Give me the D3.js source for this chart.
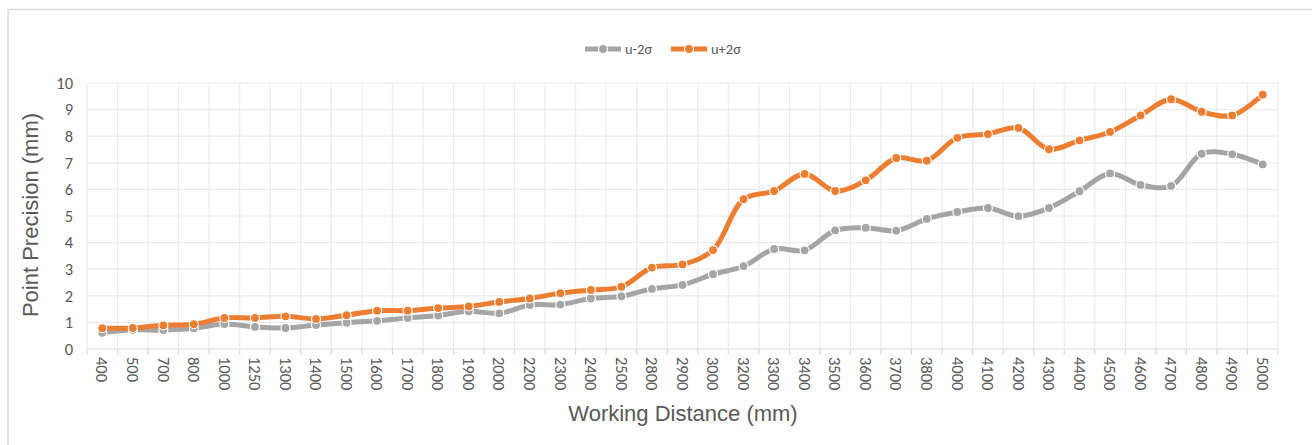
<!DOCTYPE html>
<html>
<head>
<meta charset="utf-8">
<script src="https://cdn.jsdelivr.net/npm/d3@7/dist/d3.min.js"></script>
<style>
  body { margin: 0; background: #fff; }
  text { font-family: Calibri, Carlito, Lato, "Open Sans", sans-serif; }
  .axis-title { font-family: Arial, "Liberation Sans", sans-serif; }
</style>
</head>
<body>
<svg id="chart" width="1312" height="445"></svg>
<script>
// categories (working distance, mm)
var distances = ["400","500","700","800","1000","1250","1300","1400","1500","1600","1700","1800","1900",
  "2000","2200","2300","2400","2500","2800","2900","3000","3200","3300","3400","3500","3600","3700",
  "3800","4000","4100","4200","4300","4400","4500","4600","4700","4800","4900","5000"];

// u-2sigma series
var lowerVals = [0.61,0.72,0.71,0.78,0.94,0.83,0.79,0.90,0.99,1.06,1.17,1.26,1.42,
  1.34,1.65,1.67,1.90,1.98,2.26,2.41,2.81,3.11,3.76,3.71,4.46,4.56,4.45,
  4.89,5.15,5.30,4.99,5.30,5.93,6.60,6.17,6.13,7.34,7.32,6.94];

// u+2sigma series
var upperVals = [0.78,0.79,0.89,0.93,1.17,1.17,1.23,1.13,1.27,1.44,1.44,1.54,1.60,
  1.77,1.90,2.10,2.22,2.34,3.06,3.18,3.72,5.63,5.94,6.58,5.94,6.34,7.18,
  7.08,7.94,8.08,8.31,7.51,7.84,8.16,8.78,9.39,8.92,8.78,9.56];

var yTicks = [0,1,2,3,4,5,6,7,8,9,10];

var seriesNames = ["u-2\u03c3", "u+2\u03c3"];
var seriesColors = ["#a5a5a5", "#ed7d31"];

var svg = d3.select("#chart");

// outer chart frame
svg.append("rect")
   .attr("x", 8).attr("y", 9.5)
   .attr("width", 1320).attr("height", 450)
   .style("fill", "none")
   .style("stroke", "#d9d9d9")
   .style("stroke-width", 1.5);

var plotLeft = 87, plotRight = 1278, plotTop = 83, plotBottom = 349;

var xScale = d3.scaleBand().domain(distances).range([plotLeft, plotRight]);
var yScale = d3.scaleLinear().domain([0, 10]).range([plotBottom, plotTop]);

// horizontal gridlines
svg.append("g")
   .selectAll("line")
   .data(yTicks)
   .enter()
   .append("line")
   .attr("x1", plotLeft).attr("x2", plotRight)
   .attr("y1", function(d) { return yScale(d); })
   .attr("y2", function(d) { return yScale(d); })
   .style("stroke", function(d) { return d == 0 ? "#d9d9d9" : "#ebebeb"; })
   .style("stroke-width", 1.2);

// vertical gridlines + tick marks at band boundaries
var bounds = distances.map(function(d) { return xScale(d); }).concat([plotRight]);
svg.append("g")
   .selectAll("line")
   .data(bounds)
   .enter()
   .append("line")
   .attr("x1", function(d) { return d; })
   .attr("x2", function(d) { return d; })
   .attr("y1", plotTop)
   .attr("y2", plotBottom)
   .style("stroke", "#ebebeb")
   .style("stroke-width", 1.2);

svg.append("g")
   .selectAll("line")
   .data(bounds)
   .enter()
   .append("line")
   .attr("x1", function(d) { return d; })
   .attr("x2", function(d) { return d; })
   .attr("y1", plotBottom)
   .attr("y2", plotBottom + 6)
   .style("stroke", "#d9d9d9")
   .style("stroke-width", 1.2);

// y tick labels
svg.append("g")
   .selectAll("text")
   .data(yTicks)
   .enter()
   .append("text")
   .attr("x", 73)
   .attr("y", function(d) { return yScale(d); })
   .attr("dy", "0.35em")
   .attr("text-anchor", "end")
   .style("font-size", "16.5px")
   .style("fill", "#595959")
   .text(function(d) { return d; });

// x tick labels (rotated, read top to bottom)
svg.append("g")
   .selectAll("text")
   .data(distances)
   .enter()
   .append("text")
   .attr("transform", function(d) {
     var cx = xScale(d) + xScale.bandwidth() / 2;
     return "translate(" + cx + "," + (plotBottom + 8) + ") rotate(90)";
   })
   .attr("dy", "0.35em")
   .attr("text-anchor", "start")
   .style("font-size", "16.5px")
   .style("fill", "#595959")
   .text(function(d) { return d; });

// axis titles
svg.append("text")
   .attr("class", "axis-title")
   .attr("transform", "translate(38,215) rotate(-90)")
   .attr("text-anchor", "middle")
   .style("font-size", "22px")
   .style("fill", "#595959")
   .text("Point Precision (mm)");

svg.append("text")
   .attr("class", "axis-title")
   .attr("x", 683)
   .attr("y", 421)
   .attr("text-anchor", "middle")
   .style("font-size", "22px")
   .style("fill", "#595959")
   .text("Working Distance (mm)");

// lines
var line = d3.line()
             .x(function(d, i) { return xScale(distances[i]) + xScale.bandwidth() / 2; })
             .y(function(d) { return yScale(d); })
             .curve(d3.curveCatmullRom.alpha(0.5));

[lowerVals, upperVals].forEach(function(vals, k) {
  svg.append("path")
     .datum(vals)
     .attr("d", line)
     .style("fill", "none")
     .style("stroke", seriesColors[k])
     .style("stroke-width", 5)
     .style("stroke-linecap", "round");

  svg.append("g")
     .selectAll("circle")
     .data(vals)
     .enter()
     .append("circle")
     .attr("cx", function(d, i) { return xScale(distances[i]) + xScale.bandwidth() / 2; })
     .attr("cy", function(d) { return yScale(d); })
     .attr("r", 4.5)
     .style("fill", seriesColors[k])
     .style("stroke", "#fff")
     .style("stroke-width", 1.2);
});

// legend
var legendX = [585, 671];
seriesNames.forEach(function(name, k) {
  var g = svg.append("g").attr("transform", "translate(" + legendX[k] + ",49)");
  g.append("line")
   .attr("x1", 0).attr("x2", 36)
   .attr("y1", 0).attr("y2", 0)
   .style("stroke", seriesColors[k])
   .style("stroke-width", 5);
  g.append("circle")
   .attr("cx", 18).attr("cy", 0).attr("r", 4.5)
   .style("fill", seriesColors[k])
   .style("stroke", "#fff")
   .style("stroke-width", 1.2);
  g.append("text")
   .attr("x", 40).attr("y", 0)
   .attr("dy", "0.35em")
   .style("font-size", "14.5px")
   .style("fill", "#595959")
   .text(name);
});
</script>
</body>
</html>
